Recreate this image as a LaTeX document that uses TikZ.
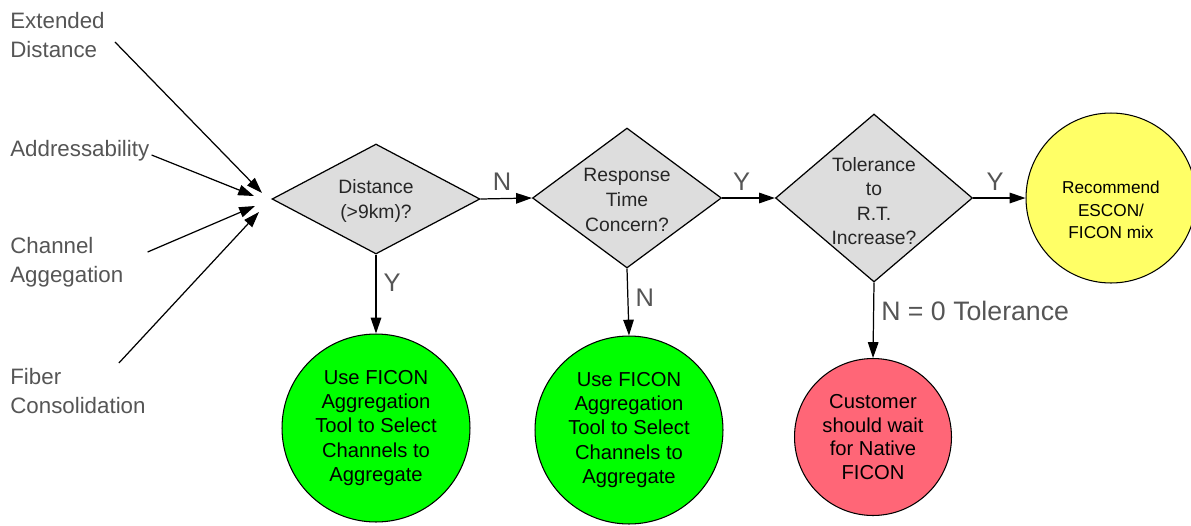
\documentclass[tikz,border=0pt]{standalone}
\usepackage{fontspec}
\setmainfont{Liberation Sans}
\usetikzlibrary{shapes.geometric, arrows.meta, positioning, calc}
\definecolor{decgray}{HTML}{DDDDDD}
\definecolor{labgray}{HTML}{555555}
\definecolor{okgreen}{HTML}{00FF00}
\definecolor{mixyellow}{HTML}{FFFF66}
\definecolor{waitred}{HTML}{FF6677}
\tikzset{
    decision/.style={diamond, draw=black, fill=decgray, line width=0.7pt, inner sep=0pt},
    dtext/.style={align=center, inner sep=0pt, text=black!85, font=\fontsize{11}{14}\selectfont},
    outcome/.style={circle, draw=black, line width=0.6pt, inner sep=0pt, align=center, font=\fontsize{11.5}{13.8}\selectfont},
    factor/.style={anchor=west, align=left, inner sep=0pt, text=labgray, font=\fontsize{12.7}{16.5}\selectfont},
    answer/.style={text=labgray, inner sep=4pt, font=\fontsize{14.5}{17}\selectfont},
    arrow/.style={line width=0.7pt, -{Triangle[length=9pt,width=6pt]}}
}

\begin{document}
\begin{tikzpicture}[x=0.02cm, y=-0.02cm]
    \useasboundingbox (0,0) rectangle (1191,525);

    % Factors
    \node[factor] (ext) at (10,35) {Extended\\Distance};
    \node[factor] (addr) at (10,151) {Addressability};
    \node[factor] (chan) at (10,262) {Channel\\Aggegation};
    \node[factor] (fib) at (10,391) {Fiber\\Consolidation};

    \coordinate (tipA) at (262,193);
    \coordinate (tipB) at (254,196);
    \coordinate (tipC) at (255,206);
    \coordinate (tipD) at (259,212);

    % Decisions
    \node[decision, minimum width=4.16cm, minimum height=2.2cm,
        label={[dtext, yshift=-0.04cm]center:Distance\\(>9km)?}] (dist) at (376,199) {};
    \node[decision, minimum width=3.78cm, minimum height=2.8cm,
        label={[dtext, yshift=-0.04cm]center:Response\\Time\\Concern?}] (resp) at (627,198) {};
    \node[decision, minimum width=3.94cm, minimum height=3.36cm,
        label={[dtext, yshift=-0.06cm]center:Tolerance\\to\\R.T.\\Increase?}] (tol) at (874,198) {};

    % Outcomes
    \node[outcome, fill=okgreen, minimum size=3.76cm] (aggA) at (376,428) {Use FICON\\Aggregation\\Tool to Select\\Channels to\\Aggregate};
    \node[outcome, fill=okgreen, minimum size=3.76cm] (aggB) at (629,430) {Use FICON\\Aggregation\\Tool to Select\\Channels to\\Aggregate};
    \node[outcome, fill=waitred, minimum size=3.14cm, font=\fontsize{11.5}{13.6}\selectfont] (wait) at (873,437) {Customer\\should wait\\for Native\\FICON};
    \node[outcome, fill=mixyellow, minimum size=3.4cm, font=\fontsize{9.8}{12.8}\selectfont] (mix) at (1111,198) {\mbox{}\\[8pt]Recommend\\ESCON/\\FICON mix};

    % Inputs
    \draw[arrow] ([shift={(10,7)}]ext.east) -- (tipA);
    \draw[arrow] ([shift={(2,4)}]addr.east) -- (tipB);
    \draw[arrow] ([shift={(24,-10)}]chan.east) -- (tipC);
    \draw[arrow] ([shift={(-27,-5)}]fib.north east) -- (tipD);

    % Flow
    \draw[arrow] (dist.east) -- node[answer, above, pos=0.42] {N} (resp.west);
    \draw[arrow] (resp.east) -- node[answer, above, pos=0.37] {Y} (tol.west);
    \draw[arrow] (tol.east) -- node[answer, above, pos=0.42] {Y} (mix.west);
    \draw[arrow] (dist.south) -- node[answer, right, pos=0.36] {Y} (aggA.north);
    \draw[arrow] (resp.south) -- node[answer, right, pos=0.43] {N} (aggB.north);
    \draw[arrow] (tol.south) -- node[answer, right, pos=0.37, font=\fontsize{15.2}{17}\selectfont] {N = 0 Tolerance} (wait.north);
\end{tikzpicture}
\end{document}
